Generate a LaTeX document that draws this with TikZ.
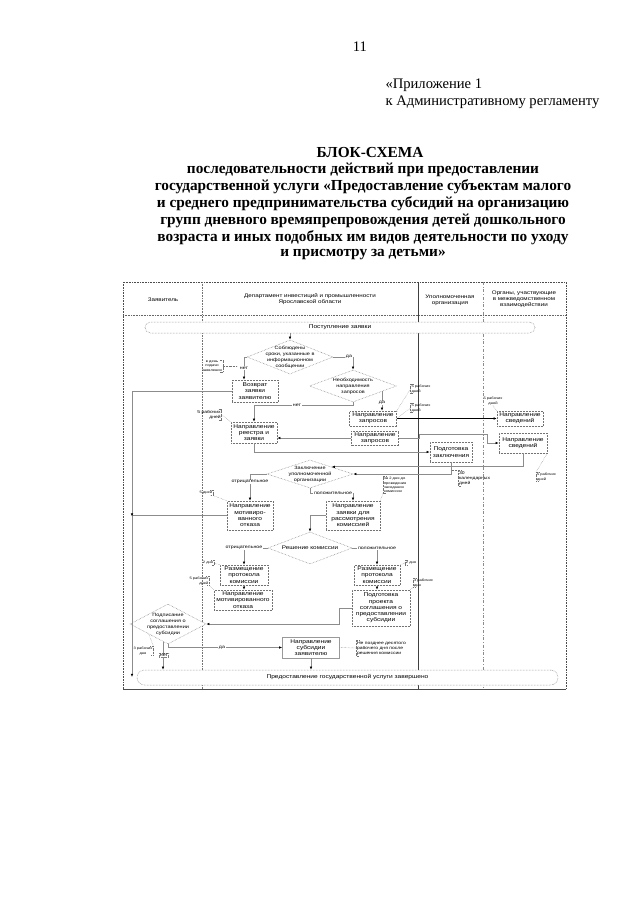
\documentclass[tikz,border=0pt]{standalone}
\usepackage{fontspec}
\setmainfont{Liberation Serif}
\newfontfamily\dgfont[FakeStretch=1.2]{Liberation Sans}
\usetikzlibrary{shapes.geometric,arrows.meta,calc}
\newcommand\myL[1]{\draw[ann] ([xshift=3pt]#1.north west) -- (#1.north west) -- (#1.south west) -- ([xshift=3pt]#1.south west);}
\newcommand\myR[1]{\draw[ann] ([xshift=-3pt]#1.north east) -- (#1.north east) -- (#1.south east) -- ([xshift=-3pt]#1.south east);}
\tikzset{
  bx/.style={draw=black!55, densely dotted, line width=0.5pt, fill=white, align=center, inner sep=0pt, font=\dgfont\fontsize{5.5}{6.3}\selectfont},
  dia/.style={diamond, draw=black!55, densely dotted, line width=0.5pt, fill=white, inner sep=0pt},
  dtxt/.style={align=center, inner sep=0pt, font=\dgfont\fontsize{4.6}{6}\selectfont},
  conn/.style={draw=black!45, line width=0.9pt},
  arr/.style={conn, -{Latex[length=3.2pt,width=2.6pt,color=black]}},
  lbl/.style={inner sep=0.8pt, font=\dgfont\fontsize{4.2}{5}\selectfont},
  lbls/.style={inner sep=0.8pt, font=\dgfont\fontsize{3.4}{4.2}\selectfont},
  ann/.style={draw=black!55, densely dotted, line width=0.4pt},
  tag/.style={fill=white, inner sep=0.6pt, font=\dgfont\fontsize{4.4}{5}\selectfont},
  hdr/.style={align=center, font=\dgfont\fontsize{5.2}{6.2}\selectfont},
  ttl/.style={font=\bfseries\fontsize{15.3}{17}\selectfont},
  plain/.style={font=\fontsize{14.6}{16}\selectfont},
}
\begin{document}
\begin{tikzpicture}[x=1pt,y=-1pt]
\useasboundingbox[fill=white] (0,0) rectangle (640,905);
% ---- page header ----
\node[plain] (pg) at (360,47) {11};
\node[plain, anchor=west] (app1) at (382,85) {«Приложение 1};
\node[plain, anchor=west] (app2) at (382,102) {к Административному регламенту};
\node[ttl] (t0) at (370,153) {БЛОК-СХЕМА};
\node[ttl] (t1) at (363,170) {последовательности действий при предоставлении};
\node[ttl] (t2) at (363,187) {государственной услуги «Предоставление субъектам малого};
\node[ttl] (t3) at (363,204) {и среднего предпринимательства субсидий на организацию};
\node[ttl] (t4) at (363,221) {групп дневного времяпрепровождения детей дошкольного};
\node[ttl] (t5) at (363,238) {возраста и иных подобных им видов деятельности по уходу};
\node[ttl] (t6) at (363,255) {и присмотру за детьми»};
% ---- frame ----
\draw[black!70, densely dotted, line width=0.6pt] (123,689) -- (123,282) -- (566,282) -- (566,689);
\draw[black!70, line width=0.6pt] (123,689) -- (566,689);
\draw[black!60, densely dotted, line width=0.6pt] (123,315) -- (566,315);
\draw[black!55, densely dotted, line width=0.6pt] (202,282) -- (202,689);
\draw[black!75, line width=0.8pt] (418,282) -- (418,689);
\draw[black!45, dash dot, line width=0.6pt] (483,282) -- (483,689);
\node[hdr] (h1) at (163,300) {Заявитель};
\node[hdr] (h2) at (310,299) {Департамент инвестиций и промышленности\\Ярославской области};
\node[hdr] (h3) at (450,300) {Уполномоченная\\организация};
\node[hdr] (h4) at (524,299) {Органы, участвующие\\в межведомственном\\взаимодействии};
% ---- nodes ----
\node[bx, minimum width=390pt, minimum height=11pt, rounded corners=5.5pt] (start) at (340,327.5) {Поступление заявки};
\node[dia, minimum width=86pt, minimum height=34pt] (d1) at (290,357) {};
\node[dtxt] (d1t) at (d1) {Соблюдены\\сроки, указанные в\\информационном\\сообщении};
\node[dia, minimum width=87pt, minimum height=32pt] (d2) at (353,386) {};
\node[dtxt] (d2t) at (d2) {Необходимость\\направления\\запросов};
\node[bx, minimum width=46pt, minimum height=22pt] (vozvrat) at (255,391) {Возврат\\заявки\\заявителю};
\node[bx, minimum width=47pt, minimum height=15pt] (nzap1) at (373,418.5) {Направление\\запросов};
\node[bx, minimum width=46pt, minimum height=15pt] (nsv1) at (520,418.5) {Направление\\сведений};
\node[bx, minimum width=46pt, minimum height=21pt] (nreestr) at (254,432.5) {Направление\\реестра и\\заявки};
\node[bx, minimum width=47pt, minimum height=14pt] (nzap2) at (375,438) {Направление\\запросов};
\node[bx, minimum width=48pt, minimum height=20pt] (nsv2) at (523,443) {Направление\\сведений};
\node[bx, minimum width=42pt, minimum height=20pt] (podg) at (451,452) {Подготовка\\заключения};
\node[dia, minimum width=86pt, minimum height=28pt] (d3) at (310,474) {};
\node[dtxt] (d3t) at (d3) {Заключение\\уполномоченной\\организации};
\node[bx, minimum width=46pt, minimum height=29pt] (otkaz1) at (250,515.5) {Направление\\мотивиро-\\ванного\\отказа};
\node[bx, minimum width=54pt, minimum height=29pt] (nzayavki) at (353,515.5) {Направление\\заявки для\\рассмотрения\\комиссией};
\node[dia, minimum width=84pt, minimum height=32pt] (d4) at (310,548) {};
\node[dtxt, font=\dgfont\fontsize{5.3}{6}\selectfont] (d4t) at (d4) {Решение комиссии};
\node[bx, minimum width=48pt, minimum height=20pt] (razm1) at (244,575) {Размещение\\протокола\\комиссии};
\node[bx, minimum width=46pt, minimum height=20pt] (razm2) at (377,575) {Размещение\\протокола\\комиссии};
\node[bx, minimum width=58pt, minimum height=20pt] (otkaz2) at (243,600) {Направление\\мотивированного\\отказа};
\node[bx, minimum width=58pt, minimum height=36pt] (proekt) at (381,608) {Подготовка\\проекта\\соглашения о\\предоставлении\\субсидии};
\node[dia, minimum width=76pt, minimum height=40pt] (d5) at (168,624) {};
\node[dtxt] (d5t) at (d5) {Подписание\\соглашения о\\предоставлении\\субсидии};
\node[bx, solid, draw=black!40, minimum width=57pt, minimum height=21pt] (nsub) at (311,647.5) {Направление\\субсидии\\заявителю};
\node[bx, minimum width=421pt, minimum height=15pt, rounded corners=7.5pt] (end) at (347.5,677.5) {Предоставление государственной услуги завершено};
\coordinate (lv1) at (132,391);
\coordinate (lv2) at (132,677);
\coordinate (d2r) at (382,391.3);
\coordinate (d5n) at (163,641.5);
% ---- connectors ----
\draw[arr] (start.south -| d1.north) -- (d1.north);
\draw[arr] (d1.west) -| ([xshift=-11pt]vozvrat.north);
\draw[arr] (d1.east) -| (d2.north);
\draw[arr] (vozvrat.west) -- (lv1) -- (lv2);
\draw[arr] (d2r) -- (d2r |- nzap1.north);
\draw[arr] (d2.south) -- ++(0,3) -| (nreestr.north);
\draw[black, line width=0.5pt, -{Latex[length=3.2pt,width=2.6pt]}] (nzap1.east) -- (nsv1.west);
\draw[arr] (nzap2.west) -- (nzap2.west -| nreestr.east);
\draw[arr] (nzap2.east) -- ++(21,0) |- (487,434) |- (nsv2.west);
\draw[arr] (nreestr.south) |- (podg.west);
\draw[arr] (nsv2.south) |- (d3.north east);
\draw[arr] (podg.south) |- (d3.east);
\draw[arr] (d3.west) -| (otkaz1.north);
\draw[arr] (d3.south) -- ++(0,5) -| (nzayavki.north);
\draw[arr] (nzayavki.west) -| (d4.north);
\draw[arr] (d4.west) -| (razm1.north);
\draw[arr] (d4.east) -| (razm2.north);
\draw[arr] (razm1.south) -- (razm1.south |- otkaz2.north);
\draw[arr] (razm2.south) -- (razm2.south |- proekt.north);
\draw[arr] (proekt.west) -- ++(-12,0) |- (d5.east);
\draw[arr] (d5.south) |- (nsub.west);
\draw[arr] (d5n) -- (d5n |- end.north);
\draw[arr] (nsub.south) -- (nsub.south |- end.north);
\draw[conn] (otkaz1.west) -- (otkaz1.west -| lv1);
\draw[arr] ([yshift=4pt]otkaz1.west -| lv1) -- ([yshift=-1pt]otkaz1.west -| lv1);
% ---- branch tags ----
\node[tag] (g1) at (244,368) {нет};
\node[tag] (g2) at (349,357) {да};
\node[tag] (g3) at (382,403) {да};
\node[tag] (g4) at (297,405) {нет};
\node[tag] (g5) at (250,482) {отрицательное};
\node[tag] (g6) at (333,493) {положительное};
\node[tag] (g7) at (244,548) {отрицательное};
\node[tag] (g8) at (377,548) {положительное};
\node[tag] (g9) at (222,647.5) {да};
\node[tag, draw=black!50, densely dotted] (g10) at (164,655) {нет};
% ---- annotations ----
\node[lbls, align=center] (la) at (212,366) {в день\\подачи\\заявления};
\myR{la}
\draw[ann] (la.east) -- ++(14,0);
\node[lbl, align=right] (lb) at (209,415) {5 рабочих\\дней};
\myR{lb}
\draw[ann] (lb.east) -- (nreestr.north west);
\node[lbls, align=left] (lc) at (421,389) {5 рабочих\\дней};
\myL{lc}
\draw[ann] (lc.west) -- (nzap1.north east);
\node[lbls, align=left] (ld) at (421,408) {5 рабочих\\дней};
\myL{ld}
\draw[ann] (ld.west) -- (nzap1.east);
\node[lbls, align=center] (le) at (493,401) {5 рабочих\\дней};
\draw[ann] (le.south) -- (nsv1.north west);
\node[lbl, align=left, anchor=west] (lf) at (458,478) {30\\календарных\\дней};
\myL{lf}
\draw[ann] (lf.north west) -- (podg.south |- lf.north west);
\node[lbls, align=left, anchor=west] (lg) at (536,477) {5 рабочих\\дней};
\myL{lg}
\draw[ann] (lg.north west) -- (nsv2.south east);
\node[lbls, align=left, anchor=west] (lh) at (383,485) {за 2 дня до\\проведения\\заседания\\комиссии};
\myL{lh}
\draw[ann] (lh.south west) -- (nzayavki.north east);
\node[lbls] (li) at (206,493) {5 дней};
\myR{li}
\draw[ann] (li.south east) -- (otkaz1.north west);
\node[lbls] (lj) at (208,563) {2 дня};
\myR{lj}
\draw[ann] (lj.east) -- (razm1.north west);
\node[lbls, align=right] (lk) at (199,581) {5 рабочих\\дней};
\myR{lk}
\draw[ann] (lk.south east) -- (otkaz2.north west);
\node[lbls] (ll) at (411,563) {2 дня};
\myL{ll}
\draw[ann] (ll.west) -- (razm2.north east);
\node[lbls, align=left, anchor=west] (lm) at (413,583) {3 рабочих\\дня};
\myL{lm}
\draw[ann] (lm.south west) -- (proekt.north east);
\node[lbls, align=center] (ln) at (143,651) {3 рабочих\\дня};
\myR{ln}
\draw[ann] (ln.north east) -- (d5.south west);
\node[lbl, align=left, anchor=west] (lo) at (356,648) {Не позднее десятого\\рабочего дня после\\решения комиссии};
\myL{lo}
\draw[ann] (nsub.east) -- (lo.west);
\end{tikzpicture}
\end{document}
